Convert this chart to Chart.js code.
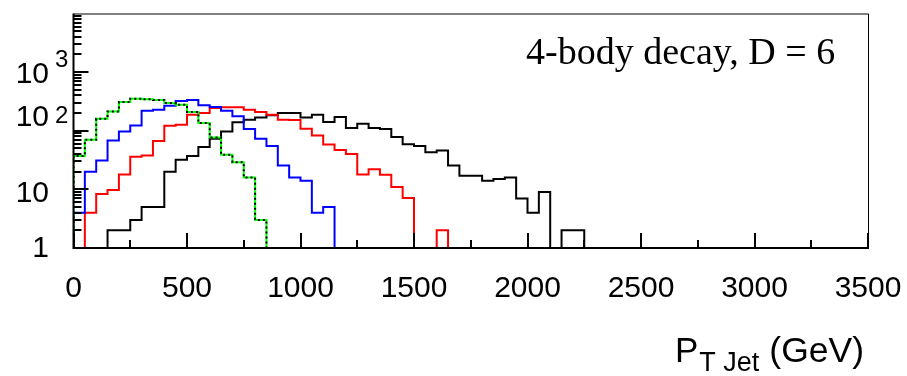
<!DOCTYPE html>
<html><head><meta charset="utf-8">
<script src="https://cdn.jsdelivr.net/npm/chart.js@4/dist/chart.umd.min.js"></script>
<style>html,body{margin:0;padding:0;background:#fff;}canvas{display:block;}</style>
</head><body>
<canvas id="c" width="907" height="376"></canvas>
<script>
// ---- data (50 GeV bins starting at 0) ----
const BIN_WIDTH = 50;
const blackCounts = [0,0,0,2,2,3,5,5,20,32, 37,53,73,97,139,154,169,183,200,200, 169,188,141,171,111,132,111,107,78,59, 55,43,46,25.5,17,17,14,15,16,7, 4,9,0,2,2];
const redCounts   = [0,4,8.3,9.8,18,36,38,67,122,127, 188,200,244,251,251,229,209,188,154,152, 108,83,58,47,40,18,22,17.7,11,7.1, 0,0,2,0,0,0,0,0,0];
const blueCounts  = [4,20,31,68,97,123,220,229,267,321, 334,271,254,220,176,107,73,55,25.5,16, 14,4,5,0,0,0];
const greenCounts = [37,70,160,214,309,352,343,334,297,278, 209,135,77,39,29,16,3,0];
const xTickValues = [0,500,1000,1500,2000,2500,3000,3500];
const xTickLabels = ['0','500','1000','1500','2000','2500','3000','3500'];
const yTickValues = [1,10,100,1000];
const yTickBases = ['1','10','10','10'];
const yTickExponents = ['','','2','3'];
const titleText = '4-body decay, D = 6';
const xTitleMain = 'P';
const xTitleSub = 'T Jet';
const xTitleUnit = '(GeV)';

function histPoints(vals){
  const pts = [{x:0, y:1}];
  vals.forEach((v,i)=>pts.push({x:i*BIN_WIDTH, y:Math.max(v,1)}));
  const end = vals.length*BIN_WIDTH;
  pts.push({x:end, y:Math.max(vals[vals.length-1],1)});
  pts.push({x:end, y:1});
  return pts;
}

const SANS = '"Liberation Sans", Arial, sans-serif';
const SERIF = '"Liberation Serif", "Times New Roman", serif';

const rootFrame = {
  id: 'rootFrame',
  afterDatasetsDraw(chart){
    const {ctx, chartArea:a, scales:{x, y}} = chart;
    ctx.save();
    ctx.strokeStyle = '#000';
    ctx.lineWidth = 1;
    ctx.beginPath();
    ctx.moveTo(a.left, a.top+0.5); ctx.lineTo(a.right+0.5, a.top+0.5); ctx.lineTo(a.right+0.5, a.bottom);
    ctx.stroke();
    ctx.lineWidth = 2;
    ctx.beginPath();
    ctx.moveTo(a.left, a.top); ctx.lineTo(a.left, a.bottom); ctx.lineTo(a.right+1, a.bottom);
    ctx.stroke();
    // x ticks (inward)
    ctx.beginPath();
    for (let v = x.min; v <= x.max + 1e-6; v += 250){
      const px = Math.round(x.getPixelForValue(v));
      const len = (v % 500 === 0) ? 15 : 8;
      ctx.moveTo(px, a.bottom); ctx.lineTo(px, a.bottom - len);
    }
    ctx.stroke();
    // y ticks (inward, log)
    ctx.beginPath();
    for (let n = 0; n < 4; n++){
      for (let k = 1; k <= 9; k++){
        const v = k*Math.pow(10,n);
        if (v > y.max) continue;
        const py = Math.round(y.getPixelForValue(v));
        const len = k === 1 ? 15 : 8;
        ctx.moveTo(a.left, py); ctx.lineTo(a.left + len, py);
      }
    }
    ctx.stroke();
    // x tick labels
    ctx.fillStyle = '#000';
    ctx.font = '30px ' + SANS;
    ctx.textAlign = 'center';
    ctx.textBaseline = 'alphabetic';
    xTickValues.forEach((v,i)=>{
      ctx.fillText(xTickLabels[i], x.getPixelForValue(v), 296.5);
    });
    // y tick labels
    const baseNudge = [9, 12.5, -4.5, 11];
    const expNudge = [0, 0, -14, -27.5];
    yTickValues.forEach((v,i)=>{
      const py = y.getPixelForValue(v);
      ctx.font = '30px ' + SANS;
      ctx.textAlign = 'right';
      ctx.fillText(yTickBases[i], 49, py + baseNudge[i]);
      if (yTickExponents[i]){
        ctx.font = '24px ' + SANS;
        ctx.textAlign = 'left';
        ctx.fillText(yTickExponents[i], 55, py + baseNudge[i] + expNudge[i] + 11);
      }
    });
    // title
    ctx.font = '38px ' + SERIF;
    ctx.textAlign = 'left';
    ctx.fillText(titleText, 526, 64);
    // x title
    ctx.font = '35px ' + SANS;
    ctx.textAlign = 'left';
    ctx.fillText(xTitleMain, 675, 362);
    const pw = ctx.measureText(xTitleMain).width;
    ctx.font = '27px ' + SANS;
    ctx.fillText(xTitleSub, 675 + pw + 1, 371);
    ctx.font = '35.5px ' + SANS;
    ctx.textAlign = 'right';
    ctx.fillText(xTitleUnit, 864, 362);
    ctx.restore();
  }
};

const mk = (label, vals, color, extra) => Object.assign({
  label, data: histPoints(vals), borderColor: color, backgroundColor: color,
  borderWidth: 2, pointRadius: 0, stepped: 'before', fill: false, tension: 0
}, extra || {});

new Chart(document.getElementById('c'), {
  type: 'line',
  data: { datasets: [
    mk('black', blackCounts, '#000000', {order: 5}),
    mk('red', redCounts, '#ff0000', {order: 4}),
    mk('blue', blueCounts, '#0000ff', {order: 3}),
    mk('green', greenCounts, '#00ff00', {order: 2}),
    mk('green-dots', greenCounts, '#000000', {order: 1, borderWidth: 2, borderDash: [2,3]})
  ]},
  options: {
    responsive: false, animation: false, devicePixelRatio: 1,
    layout: { padding: { left: 73.5, right: 39, top: 13.5, bottom: 128 } },
    plugins: { legend: {display:false}, tooltip: {enabled:false}, title: {display:false} },
    scales: {
      x: { type: 'linear', min: 0, max: 3500, display: false },
      y: { type: 'logarithmic', min: 1, max: 10000, display: false }
    }
  },
  plugins: [rootFrame]
});
</script>
</body></html>
